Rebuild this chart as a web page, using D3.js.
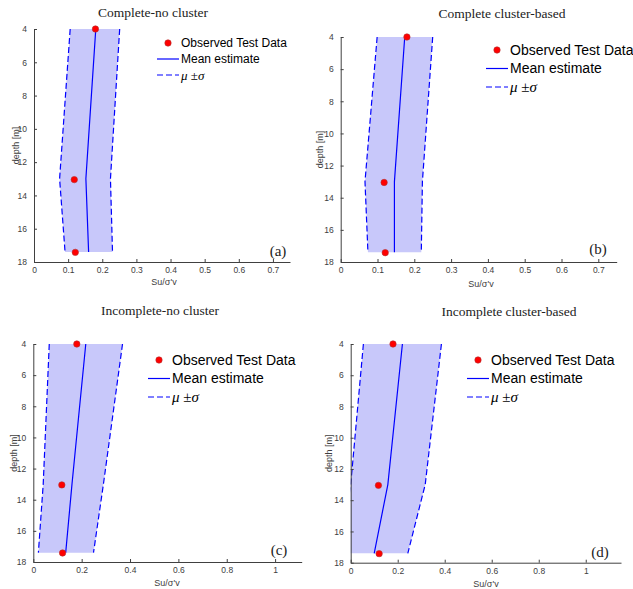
<!DOCTYPE html>
<html>
<head>
<meta charset="utf-8">
<script src="https://cdn.jsdelivr.net/npm/d3@7"></script>
<style>
  body { margin: 0; background: #fff; }
  svg { display: block; }
</style>
</head>
<body>
<div id="chart"></div>
<script>
// depths where the estimate is given
const depths = [4, 13, 17.4];

// observed test data (same in every panel)
const obsDepth = [4, 13.05, 17.42];
const obsValue = [0.18, 0.118, 0.121];

// (a) complete - no cluster
const meanA = [0.181, 0.152, 0.16];
const lowerA = [0.106, 0.075, 0.091];
const upperA = [0.251, 0.224, 0.23];

// (b) complete cluster-based
const meanB = [0.174, 0.146, 0.146];
const lowerB = [0.099, 0.066, 0.074];
const upperB = [0.25, 0.222, 0.219];

// (c) incomplete - no cluster
const meanC = [0.217, 0.16, 0.134];
const lowerC = [0.066, 0.041, 0.021];
const upperC = [0.369, 0.29, 0.249];

// (d) incomplete cluster-based
const meanD = [0.22, 0.158, 0.1];
const lowerD = [0.054, 0.0, -0.045];
const upperD = [0.386, 0.317, 0.243];

const titles = ['Complete-no cluster', 'Complete cluster-based', 'Incomplete-no cluster', 'Incomplete cluster-based'];
const tags = ['(a)', '(b)', '(c)', '(d)'];
const xMaxes = [0.75, 0.75, 1.11, 1.15];
const xTickSets = [
    [0, 0.1, 0.2, 0.3, 0.4, 0.5, 0.6, 0.7],
    [0, 0.1, 0.2, 0.3, 0.4, 0.5, 0.6, 0.7],
    [0, 0.2, 0.4, 0.6, 0.8, 1],
    [0, 0.2, 0.4, 0.6, 0.8, 1]
];
const yTicks = [4, 6, 8, 10, 12, 14, 16, 18];
const legendLabels = ['Observed Test Data', 'Mean estimate'];

const series = [
    { mean: meanA, lower: lowerA, upper: upperA },
    { mean: meanB, lower: lowerB, upper: upperB },
    { mean: meanC, lower: lowerC, upper: upperC },
    { mean: meanD, lower: lowerD, upper: upperD }
];

// panel layout (pixel frame of each axes)
const layout = [
    { x0: 34, x1: 290, y0: 29, y1: 262, titleX: 153, titleY: 17, tagX: 278, tagY: 256,
      lgX: 157, lgY: 43, lgGap: 16, lgFont: 12, ylabX: 16, xlabX: 164, xlabY: 285 },
    { x0: 340.7, x1: 616.7, y0: 37, y1: 262, titleX: 502, titleY: 18, tagX: 598, tagY: 254,
      lgX: 486, lgY: 50, lgGap: 18.5, lgFont: 14, ylabX: 320, xlabX: 481, xlabY: 287 },
    { x0: 33.3, x1: 301.7, y0: 344, y1: 562, titleX: 160, titleY: 315, tagX: 279, tagY: 555,
      lgX: 148, lgY: 360, lgGap: 18.5, lgFont: 14, ylabX: 14, xlabX: 167, xlabY: 586 },
    { x0: 350.7, x1: 621, y0: 344, y1: 562.7, titleX: 509, titleY: 316, tagX: 600, tagY: 557,
      lgX: 467, lgY: 360, lgGap: 18.5, lgFont: 14, ylabX: 329, xlabX: 486, xlabY: 587 }
];

const svg = d3.select('#chart')
    .append('svg')
    .attr('width', 633)
    .attr('height', 589);

const axisColor = '#404040';
const blue = '#0000ff';
const bandFill = '#c8c8fa';

layout.forEach((L, i) => {
    const s = series[i];
    const x = d3.scaleLinear().domain([0, xMaxes[i]]).range([L.x0, L.x1]);
    const y = d3.scaleLinear().domain([4, 18]).range([L.y0, L.y1]);
    const g = svg.append('g');

    const clipId = 'clip' + i;
    g.append('clipPath').attr('id', clipId)
        .append('rect')
        .attr('x', L.x0).attr('y', L.y0 - 6)
        .attr('width', L.x1 - L.x0).attr('height', L.y1 - L.y0 + 6);

    const plot = g.append('g').attr('clip-path', `url(#${clipId})`);

    const band = depths.map((d, k) => ({ d, lo: s.lower[k], hi: s.upper[k], m: s.mean[k] }));

    // shaded +/- sigma band
    plot.append('path')
        .datum(band)
        .attr('fill', bandFill)
        .attr('d', d3.area()
            .y(d => y(d.d))
            .x0(d => x(d.lo))
            .x1(d => x(d.hi)));

    const line = d3.line().y(d => y(d.d));

    plot.append('path')
        .datum(band)
        .attr('fill', 'none')
        .attr('stroke', blue)
        .attr('stroke-width', 1.2)
        .attr('d', line.x(d => x(d.m)));

    ['lo', 'hi'].forEach(key => {
        plot.append('path')
            .datum(band)
            .attr('fill', 'none')
            .attr('stroke', blue)
            .attr('stroke-width', 1.2)
            .attr('stroke-dasharray', '6,3')
            .attr('d', d3.line().y(d => y(d.d)).x(d => x(d[key])));
    });

    // observed points
    g.selectAll('circle.obs')
        .data(obsValue.map((v, k) => ({ v, d: obsDepth[k] })))
        .join('circle')
        .attr('class', 'obs')
        .attr('cx', d => x(d.v))
        .attr('cy', d => y(d.d))
        .attr('r', 3.2)
        .attr('fill', '#ff0000')
        .attr('stroke', '#b03030')
        .attr('stroke-width', 0.6);

    // axes (MATLAB style, ticks pointing in)
    const xAxis = g.append('g')
        .attr('transform', `translate(0,${L.y1})`)
        .call(d3.axisBottom(x).tickValues(xTickSets[i])
            .tickFormat(d => String(+d.toFixed(2)))
            .tickSizeInner(-3).tickSizeOuter(0).tickPadding(5));

    const yAxis = g.append('g')
        .attr('transform', `translate(${L.x0},0)`)
        .call(d3.axisLeft(y).tickValues(yTicks)
            .tickSizeInner(-3).tickSizeOuter(0).tickPadding(7));

    [xAxis, yAxis].forEach(ax => {
        ax.select('.domain').attr('stroke', axisColor).attr('stroke-width', 1);
        ax.selectAll('.tick line').attr('stroke', axisColor);
        ax.selectAll('.tick text')
            .attr('fill', '#404040')
            .style('font-family', '"Liberation Sans", Arial, sans-serif')
            .style('font-size', '8.5px');
    });

    // axis labels
    g.append('text')
        .attr('x', L.xlabX)
        .attr('y', L.xlabY)
        .attr('text-anchor', 'middle')
        .attr('fill', '#404040')
        .style('font-family', '"Liberation Sans", Arial, sans-serif')
        .style('font-size', '9px')
        .text("Su/σ'v");

    g.append('text')
        .attr('transform', `translate(${L.ylabX},${(L.y0 + L.y1) / 2}) rotate(-90)`)
        .attr('text-anchor', 'middle')
        .attr('dy', '0.35em')
        .attr('fill', '#404040')
        .style('font-family', '"Liberation Sans", Arial, sans-serif')
        .style('font-size', '9px')
        .text('depth [m]');

    // title
    g.append('text')
        .attr('x', L.titleX)
        .attr('y', L.titleY)
        .attr('text-anchor', 'middle')
        .attr('fill', '#222')
        .style('font-family', '"Liberation Serif", "DejaVu Serif", serif')
        .style('font-size', '13.5px')
        .text(titles[i]);

    // panel tag
    g.append('text')
        .attr('x', L.tagX)
        .attr('y', L.tagY)
        .attr('text-anchor', 'middle')
        .attr('fill', '#222')
        .style('font-family', '"Liberation Serif", "DejaVu Serif", serif')
        .style('font-size', '15px')
        .text(tags[i]);

    // legend
    const lg = g.append('g');
    const sw = 22;
    const tx = L.lgX + sw + 2;
    const fs = L.lgFont;

    lg.append('circle')
        .attr('cx', L.lgX + sw / 2).attr('cy', L.lgY)
        .attr('r', 3.2).attr('fill', '#ff0000')
        .attr('stroke', '#b03030').attr('stroke-width', 0.6);

    lg.append('line')
        .attr('x1', L.lgX).attr('x2', L.lgX + sw)
        .attr('y1', L.lgY + L.lgGap).attr('y2', L.lgY + L.lgGap)
        .attr('stroke', blue).attr('stroke-width', 1.2);

    lg.append('line')
        .attr('x1', L.lgX).attr('x2', L.lgX + sw)
        .attr('y1', L.lgY + 2 * L.lgGap).attr('y2', L.lgY + 2 * L.lgGap)
        .attr('stroke', blue).attr('stroke-width', 1.2)
        .attr('stroke-dasharray', '6,3');

    legendLabels.forEach((lab, k) => {
        lg.append('text')
            .attr('x', tx)
            .attr('y', L.lgY + k * L.lgGap)
            .attr('dy', '0.35em')
            .attr('fill', '#000')
            .style('font-family', '"Liberation Sans", Arial, sans-serif')
            .style('font-size', fs + 'px')
            .text(lab);
    });

    const mu = lg.append('text')
        .attr('x', tx)
        .attr('y', L.lgY + 2 * L.lgGap)
        .attr('dy', '0.35em')
        .attr('fill', '#000')
        .style('font-family', '"Liberation Serif", "DejaVu Serif", serif')
        .style('font-size', (fs + 1) + 'px');
    mu.append('tspan').style('font-style', 'italic').text('μ');
    mu.append('tspan').text(' ±');
    mu.append('tspan').style('font-style', 'italic').text('σ');
});
</script>
</body>
</html>
